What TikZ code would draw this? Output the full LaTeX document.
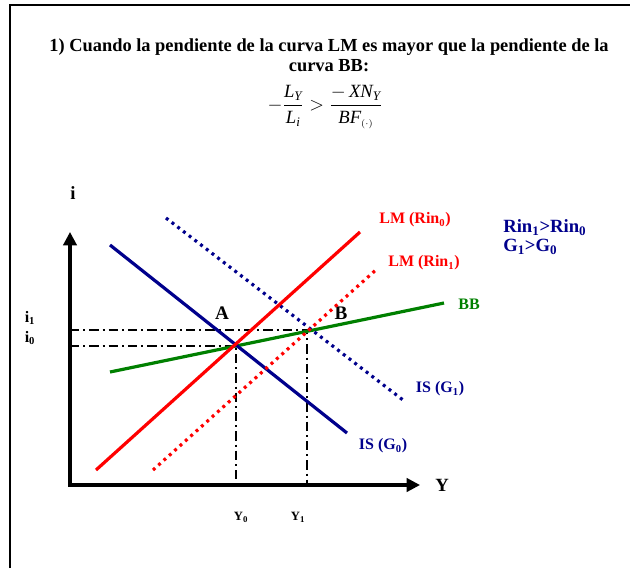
\documentclass[tikz,border=0pt]{standalone}
\usepackage{amsmath}
\usepackage{fontspec}
\setmainfont{Liberation Serif}
\usepackage{xcolor}
\usepackage{tikz}
\usetikzlibrary{arrows.meta, calc}
\definecolor{lmred}{RGB}{255, 0, 0}
\definecolor{isnavy}{RGB}{0, 0, 140}
\definecolor{bbgreen}{RGB}{0, 128, 0}

\begin{document}
\begin{tikzpicture}[x=0.75pt, y=-0.75pt,
    axis/.style={line width=2.3pt, -{Triangle[length=10pt, width=10pt]}},
    curve/.style={line width=2.4pt},
    dotcurve/.style={line width=2.4pt, dash pattern=on 2.2pt off 3.2pt},
    guide/.style={line width=0.9pt, dash pattern=on 7pt off 3pt on 1.5pt off 3pt},
    lbl/.style={font=\bfseries\fontsize{12}{14}\selectfont, inner sep=0pt}]
    \useasboundingbox (0,0) rectangle (630,568);

    % Frame
    \draw[line width=1.5pt] (10,568) -- (10,5) -- (630,5);

    % Title
    \node[font=\bfseries\fontsize{13.8}{16}\selectfont, inner sep=0pt] (title1) at (329,47)
        {1) Cuando la pendiente de la curva LM es mayor que la pendiente de la};
    \node[font=\bfseries\fontsize{13.8}{16}\selectfont, inner sep=0pt] (title2) at (329,66) {curva BB:};
    \node[font=\fontsize{14}{16}\selectfont, inner sep=0pt] (slope) at (325,107)
        {$-\dfrac{\textit{L}_{\textit{Y}}}{\textit{L}_{\textit{i}}}>\dfrac{-\,\textit{XN}_{\textit{Y}}}{\textit{BF}_{\scriptscriptstyle(\cdot)}}$};

    % Axes
    \coordinate (O) at (70,485);
    \draw[axis] (68,485) -- (420,485) node[right=7pt, font=\bfseries\fontsize{14}{16}\selectfont] (ylab) {Y};
    \draw[axis] (O) -- (70,232);
    \node[font=\bfseries\fontsize{14}{16}\selectfont] (ilab) at (73,193) {i};

    % Equilibria
    \coordinate (A) at (236,346);
    \coordinate (B) at (307,330);
    \node[font=\bfseries\Large] (Alab) at (222,313) {A};
    \node[font=\bfseries\Large] (Blab) at (341,313) {B};

    % Guide lines
    \draw[guide] (70,330) -- (B) -- (307,485);
    \draw[guide] (70,346) -- (A) -- (236,485);
    \node[lbl] (i1) at (30,318) {i\textsubscript{1}};
    \node[lbl] (i0) at (30,338) {i\textsubscript{0}};
    \node[lbl, font=\bfseries\fontsize{9.5}{11}\selectfont] (y0) at (241,517) {Y\textsubscript{0}};
    \node[lbl, font=\bfseries\fontsize{9.5}{11}\selectfont] (y1) at (298,517) {Y\textsubscript{1}};

    % BB curve
    \draw[bbgreen, curve] (110,372) -- (444,303);
    \node[lbl, bbgreen] (bb) at (469,304) {BB};

    % IS curves
    \draw[isnavy, curve] (110,245) -- (347,433);
    \draw[isnavy, dotcurve] (166,218) -- (403,400);
    \node[lbl, isnavy] (is0) at (383,446) {IS (G\textsubscript{0})};
    \node[lbl, isnavy] (is1) at (440,389) {IS (G\textsubscript{1})};

    % LM curves
    \draw[lmred, curve] (96,470) -- (360,232);
    \draw[lmred, dotcurve] (153,470) -- (378,268);
    \node[lbl, lmred] (lm0) at (415,220) {LM (Rin\textsubscript{0})};
    \node[lbl, lmred] (lm1) at (424,263) {LM (Rin\textsubscript{1})};

    % Shifts
    \node[lbl, isnavy, anchor=west, font=\bfseries\fontsize{14}{16}\selectfont] (rin) at (503,228)
        {Rin\textsubscript{1}>Rin\textsubscript{0}};
    \node[lbl, isnavy, anchor=west, font=\bfseries\fontsize{14}{16}\selectfont] (gg) at (503,247)
        {G\textsubscript{1}>G\textsubscript{0}};
\end{tikzpicture}
\end{document}
